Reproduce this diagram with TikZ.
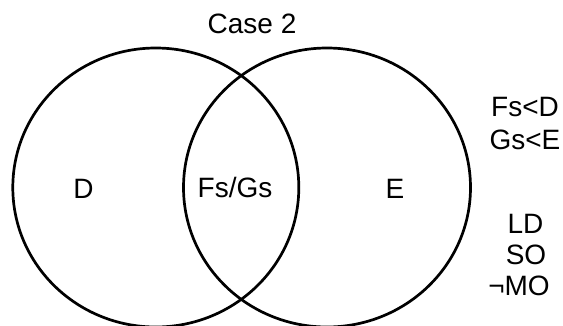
\documentclass[tikz,border=0pt]{standalone}
\usepackage{fontspec}
\setmainfont{Liberation Sans}
\begin{document}
\begin{tikzpicture}[x=1pt,y=-1pt,
  setline/.style={line width=2.7pt,black},
  lbl/.style={font=\fontsize{28}{33}\selectfont,inner sep=0pt,anchor=base}]
\useasboundingbox (0,0) rectangle (563,325);
\draw[setline] (155.8,187.5) ellipse [x radius=143, y radius=139.5];
\draw[setline] (327,187.5) ellipse [x radius=143.5, y radius=139.5];
\node[lbl] (title) at (252,33) {Case 2};
\node[lbl] (d) at (83.5,198) {D};
\node[lbl] (fg) at (235,197) {Fs/Gs};
\node[lbl] (e) at (395,198) {E};
\node[lbl] (c1) at (525,116.5) {Fs<D};
\node[lbl] (c2) at (525,149.5) {Gs<E};
\node[lbl] (p1) at (525.5,233) {LD};
\node[lbl] (p2) at (526,264) {SO};
\node[lbl] (p3) at (519,295) {¬MO};
\end{tikzpicture}
\end{document}
